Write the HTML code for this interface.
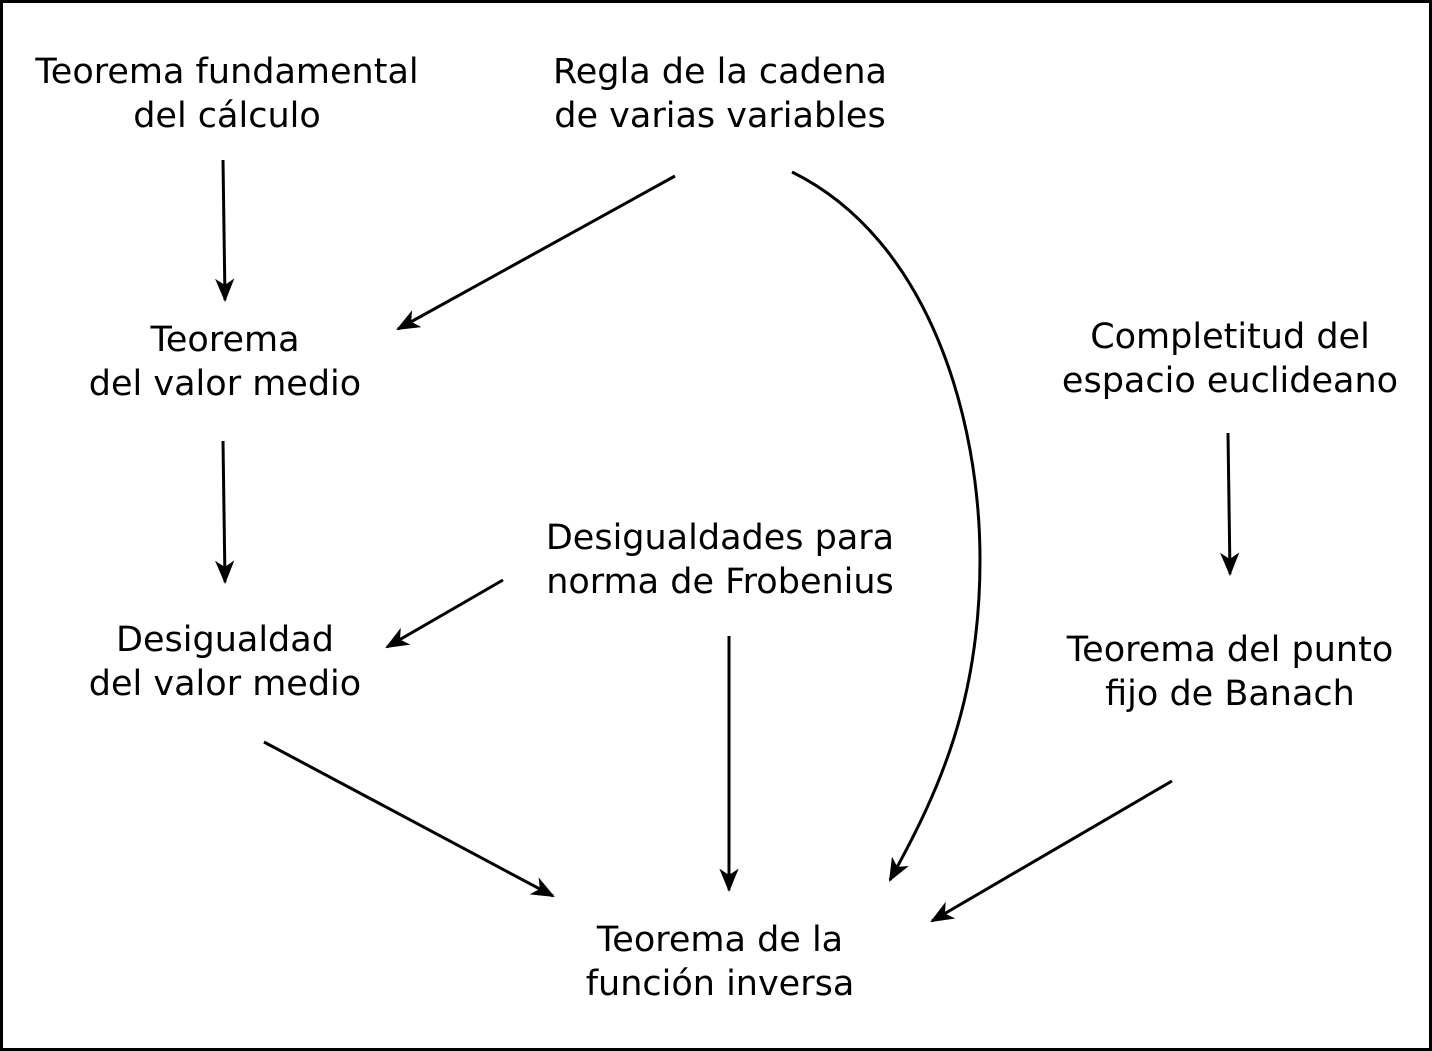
<!DOCTYPE html>
<html><head><meta charset="utf-8"><style>
html,body{margin:0;padding:0;background:#fff;}
svg{display:block;}
text{font-family:"DejaVu Sans","Liberation Sans",sans-serif;font-size:35px;fill:#000;text-anchor:middle;}
</style></head><body>
<svg width="1432" height="1051" viewBox="0 0 1432 1051" xmlns="http://www.w3.org/2000/svg">
<defs>
<marker id="a" markerUnits="userSpaceOnUse" markerWidth="30" markerHeight="30" refX="0" refY="0" viewBox="-24 -12 28 24" orient="auto">
<path d="M2,0 L-20,-9 L-14,0 L-20,9 z" fill="#000"/>
</marker>
</defs>
<rect x="1.5" y="1.5" width="1429" height="1048" fill="#fff" stroke="#000" stroke-width="3"/>
<g>
<text x="227" y="83">Teorema fundamental</text>
<text x="227" y="127">del cálculo</text>
<text x="720" y="83">Regla de la cadena</text>
<text x="720" y="127">de varias variables</text>
<text x="225" y="351">Teorema</text>
<text x="225" y="395">del valor medio</text>
<text x="1230" y="348">Completitud del</text>
<text x="1230" y="392">espacio euclideano</text>
<text x="720" y="549">Desigualdades para</text>
<text x="720" y="593">norma de Frobenius</text>
<text x="225" y="651">Desigualdad</text>
<text x="225" y="695">del valor medio</text>
<text x="1230" y="661">Teorema del punto</text>
<text x="1230" y="705">fijo de Banach</text>
<text x="720" y="951">Teorema de la</text>
<text x="720" y="995">función inversa</text>
</g>
<g stroke="#000" stroke-width="3" fill="none" marker-end="url(#a)">
<line x1="223" y1="160" x2="225" y2="300"/>
<line x1="675" y1="176" x2="398" y2="329"/>
<path d="M792,172 C930,240 980,420 980,560 C980,700 940,790 890,880"/>
<line x1="223" y1="441" x2="225" y2="582"/>
<line x1="503" y1="580" x2="387" y2="647"/>
<line x1="729" y1="636" x2="729" y2="890"/>
<line x1="264" y1="742" x2="553" y2="896"/>
<line x1="1228" y1="433" x2="1230" y2="574"/>
<line x1="1172" y1="781" x2="932" y2="921"/>
</g>
</svg>
</body></html>
